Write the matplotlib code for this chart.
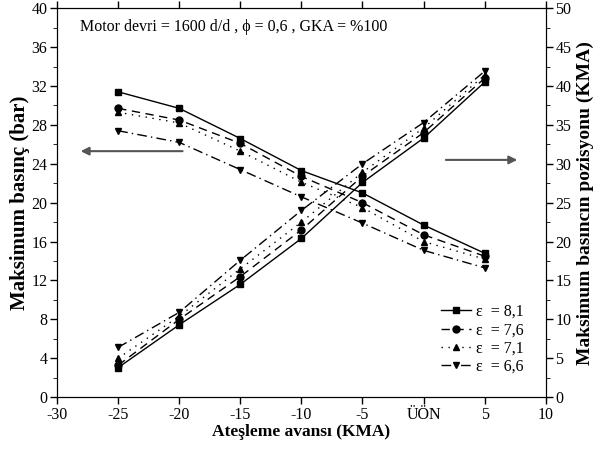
import numpy as np
import matplotlib.pyplot as plt

plt.rcParams['font.family'] = ['Liberation Serif', 'DejaVu Serif']
plt.rcParams['font.size'] = 11

# avans (KMA); 0 = ÜÖN
x = [-25, -20, -15, -10, -5, 0, 5]
xtick_vals = [-30, -25, -20, -15, -10, -5, 0, 5, 10]
xtick_labels = ['-30', '-25', '-20', '-15', '-10', '-5', 'ÜÖN', '5', '10']

# maksimum basinc (bar)
p_81 = [31.4, 29.7, 26.6, 23.3, 21.0, 17.7, 14.8]
p_76 = [29.7, 28.5, 26.1, 22.7, 20.0, 16.7, 14.5]
p_71 = [29.3, 28.2, 25.3, 22.1, 19.5, 16.0, 14.2]
p_66 = [27.4, 26.2, 23.4, 20.6, 17.9, 15.1, 13.3]

# maksimum basincin pozisyonu (KMA)
k_81 = [3.8, 9.3, 14.5, 20.4, 27.6, 33.3, 40.5]
k_76 = [4.1, 10.0, 15.5, 21.5, 28.4, 34.0, 41.0]
k_71 = [5.0, 10.4, 16.5, 22.5, 28.9, 34.6, 41.4]
k_66 = [6.4, 10.9, 17.6, 24.0, 30.0, 35.3, 41.9]

labels = ['ε  = 8,1', 'ε  = 7,6', 'ε  = 7,1', 'ε  = 6,6']
markers = ['s', 'o', '^', 'v']
styles = ['-', (0, (6, 4)), (0, (1, 4)), (0, (7, 3, 1, 3))]

fig = plt.figure(figsize=(6.01, 4.57), dpi=100)
ax = fig.add_axes([0.095, 0.131, 0.813, 0.851])
ax2 = ax.twinx()

handles = []
for p, k, m, ls, lab in zip([p_81, p_76, p_71, p_66], [k_81, k_76, k_71, k_66],
                            markers, styles, labels):
    h, = ax.plot(x, p, color='black', marker=m, ms=5, lw=1, linestyle=ls, label=lab)
    ax2.plot(x, k, color='black', marker=m, ms=5, lw=1, linestyle=ls)
    handles.append(h)

ax.set_xlim(-30, 10)
ax.set_ylim(0, 40)
ax2.set_ylim(0, 50)
ax.set_xticks(xtick_vals)
ax.set_xticklabels(xtick_labels)
ax.set_yticks(np.arange(0, 41, 4))
ax.set_yticks(np.arange(0, 41, 2), minor=True)
ax2.set_yticks(np.arange(0, 51, 5))
ax2.set_yticks(np.arange(0, 51, 2.5), minor=True)

ax.tick_params(direction='out', length=5, width=1, top=True, labelsize=11.5, pad=2)
ax.tick_params(which='minor', direction='out', length=3, top=False)
ax2.tick_params(direction='out', length=5, width=1, labelsize=11.5, pad=2)
ax2.tick_params(which='minor', direction='out', length=3)

ax.set_xlabel('Ateşleme avansı (KMA)', fontsize=12.5, fontweight='bold', labelpad=1)
ax.set_ylabel('Maksimum basınç (bar)', fontsize=15, fontweight='bold', labelpad=1)
ax2.set_ylabel('Maksimum basıncın pozisyonu (KMA)', fontsize=14, fontweight='bold', labelpad=4)

ax.text(-28.1, 38.1, 'Motor devri = 1600 d/d , ϕ = 0,6 , GKA = %100', fontsize=11.5, va='center')

ax.annotate('', xy=(-28.3, 25.3), xytext=(-19.5, 25.3),
            arrowprops=dict(arrowstyle='-|>', color='#555555', lw=1.5, mutation_scale=12))
ax.annotate('', xy=(7.9, 24.4), xytext=(1.6, 24.4),
            arrowprops=dict(arrowstyle='-|>', color='#555555', lw=1.5, mutation_scale=12))

ax.legend(handles=handles, loc='lower right', frameon=False, fontsize=11.5,
          handlelength=1.9, handletextpad=0.3, labelspacing=0.15,
          bbox_to_anchor=(0.985, 0.02))

fig.savefig('out.png', dpi=100)
